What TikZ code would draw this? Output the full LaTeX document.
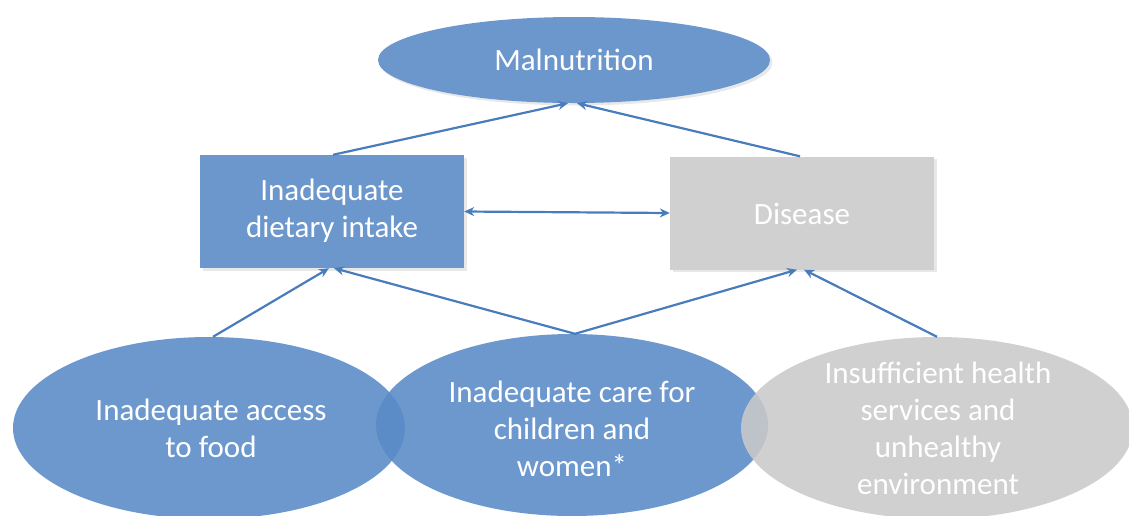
\documentclass[tikz,border=0pt]{standalone}
\usepackage{fontspec}
\setmainfont{Carlito}
\usetikzlibrary{shapes.geometric,arrows.meta,shadows}
\definecolor{solidblue}{RGB}{107,151,205}
\definecolor{baseblue}{RGB}{88,138,199}
\definecolor{solidgray}{RGB}{208,208,208}
\definecolor{basegray}{RGB}{201,201,201}
\definecolor{linkblue}{RGB}{72,124,188}
\begin{document}
\begin{tikzpicture}[x=1pt,y=-1pt,
  shade/.style={drop shadow={opacity=0.18,shadow xshift=2.5pt,shadow yshift=-2.5pt}},
  boxnode/.style={rectangle,draw=none,minimum width=264pt,minimum height=113pt,inner sep=0pt,shade},
  ovalnode/.style={ellipse,draw=none,inner sep=0pt,minimum width=392pt,minimum height=182pt},
  label/.style={text=white,font=\fontsize{31}{37}\selectfont,align=center,inner sep=0pt},
  link/.style={draw=linkblue,line width=2.2pt,-{Stealth[length=10pt,width=9pt]}},
  dlink/.style={draw=linkblue,line width=2.2pt,{Stealth[length=10pt,width=9pt]}-{Stealth[length=10pt,width=9pt]}}
]
\useasboundingbox (0,0) rectangle (1129,515);
% top
\node[ellipse,draw=none,fill=solidblue,minimum width=392pt,minimum height=86pt,inner sep=0pt,shade] (mal) at (574,60) {};
\node[label] (maltxt) at (mal.center) {Malnutrition};
% middle boxes
\node[boxnode,fill=solidblue] (diet) at (332,211.5) {};
\node[label] (diettxt) at ([yshift=1pt]diet.center) {Inadequate\\dietary intake};
\node[boxnode,fill=solidgray] (dis) at (802,213) {};
\node[label] (distxt) at ([yshift=-1pt]dis.center) {Disease};
% bottom ellipses
\node[ovalnode,fill=baseblue,fill opacity=0.88] (food) at (209,428) {};
\node[ovalnode,fill=baseblue,fill opacity=0.88] (care) at (572,425) {};
\node[ovalnode,fill=basegray,fill opacity=0.88] (health) at (937,428) {};
\node[label] (foodtxt) at (211,428) {Inadequate access\\to food};
\node[label] (caretxt) at (572,429) {Inadequate care for\\children and\\women*};
\node[label] (healthtxt) at (938,428) {Insufficient health\\services and\\unhealthy\\environment};
% connectors
\coordinate (maltipL) at ([xshift=-6pt]mal.south);
\coordinate (maltipR) at ([xshift=3pt]mal.south);
\draw[link] ([xshift=1pt]diet.north) -- (maltipL);
\draw[link] ([xshift=-2pt]dis.north) -- (maltipR);
\draw[dlink] (diet.east) -- (dis.west);
\coordinate (diettipL) at ([xshift=-3pt]diet.south);
\coordinate (diettipR) at ([xshift=2pt]diet.south);
\coordinate (distipL) at ([xshift=-5pt]dis.south);
\coordinate (distipR) at ([xshift=2pt]dis.south);
\draw[link] ([xshift=4pt]food.north) -- (diettipL);
\draw[link] ([xshift=3pt]care.north) -- (diettipR);
\draw[link] ([xshift=3pt]care.north) -- (distipL);
\draw[link] (health.north) -- (distipR);
\end{tikzpicture}
\end{document}
